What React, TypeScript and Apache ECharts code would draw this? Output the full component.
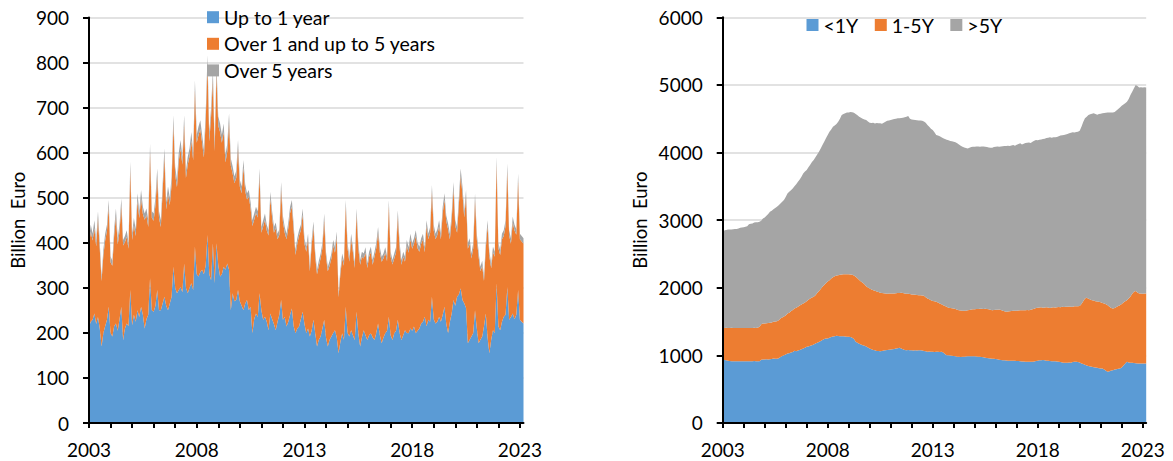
import React, { useEffect, useRef } from 'react';
import * as echarts from 'echarts';

// ---------- categories (monthly, Jan 2003 .. Mar 2023) ----------
const firstYear = 2003;
const monthCount = 243;
const months: string[] = [];
for (let i = 0; i < monthCount; i++) {
  const y = firstYear + Math.floor(i / 12);
  const m = (i % 12) + 1;
  months.push(`${y}-${m < 10 ? '0' + m : m}`);
}

// ---------- left chart: gross issues (billion euro) ----------
// blue layer: up to 1 year
const grossUpTo1Y = [
  214, 225, 229, 243, 220, 235, 210, 170, 200, 215, 229, 258,
  200, 192, 215, 221, 205, 230, 258, 184, 210, 221, 215, 295,
  217, 240, 225, 250, 235, 258, 240, 210, 230, 240, 321, 250,
  247, 260, 295, 250, 250, 265, 280, 260, 250, 265, 280, 347,
  300, 288, 295, 302, 290, 354, 300, 288, 300, 310, 295, 391,
  330, 325, 335, 340, 330, 350, 417, 330, 317, 399, 310, 399,
  350, 325, 330, 347, 340, 354, 340, 250, 288, 270, 273, 295,
  270, 260, 250, 265, 273, 250, 258, 199, 230, 243, 235, 288,
  250, 229, 236, 225, 206, 243, 230, 220, 206, 225, 240, 273,
  229, 235, 214, 225, 240, 254, 215, 199, 210, 214, 230, 247,
  220, 199, 210, 192, 205, 229, 200, 170, 185, 192, 210, 229,
  190, 170, 185, 192, 200, 206, 190, 155, 180, 199, 185, 258,
  200, 192, 206, 195, 184, 247, 200, 170, 190, 206, 195, 184,
  195, 199, 190, 184, 200, 221, 195, 177, 190, 199, 205, 236,
  195, 184, 199, 205, 229, 200, 184, 195, 206, 200, 199, 210,
  205, 214, 199, 205, 210, 221, 225, 236, 215, 229, 225, 280,
  230, 221, 225, 236, 225, 240, 258, 220, 199, 225, 243, 273,
  260, 280, 285, 299, 273, 266, 255, 177, 185, 192, 200, 250,
  210, 177, 185, 192, 215, 243, 190, 155, 185, 206, 200, 310,
  215, 206, 225, 236, 240, 302, 229, 235, 243, 230, 240, 295,
  229, 225, 221,
];
// grey layer: over 5 years
const grossOver5Y = [
  14, 16, 15, 18, 13, 15, 14, 10, 13, 15, 14, 16,
  13, 11, 15, 17, 14, 15, 16, 12, 14, 15, 13, 18,
  14, 16, 15, 17, 15, 18, 16, 14, 15, 15, 20, 15,
  16, 17, 19, 15, 15, 17, 18, 16, 17, 16, 18, 20,
  18, 17, 18, 20, 17, 20, 16, 17, 18, 19, 17, 22,
  18, 19, 20, 18, 17, 19, 24, 18, 19, 22, 17, 22,
  20, 19, 18, 19, 17, 18, 20, 16, 16, 15, 16, 18,
  15, 15, 17, 15, 14, 15, 14, 13, 14, 14, 14, 17,
  13, 14, 14, 13, 12, 15, 14, 13, 13, 12, 13, 16,
  13, 13, 12, 13, 14, 15, 13, 11, 12, 12, 13, 14,
  12, 11, 12, 10, 12, 13, 11, 10, 11, 11, 12, 14,
  11, 10, 11, 11, 12, 12, 13, 9, 10, 11, 11, 14,
  12, 11, 12, 11, 10, 14, 12, 11, 11, 11, 12, 10,
  11, 12, 11, 11, 12, 13, 12, 11, 11, 12, 11, 14,
  11, 10, 11, 12, 14, 12, 11, 11, 11, 12, 12, 13,
  12, 12, 13, 12, 11, 12, 13, 11, 13, 12, 13, 15,
  13, 12, 13, 13, 12, 14, 15, 13, 13, 12, 14, 16,
  13, 13, 15, 17, 16, 14, 15, 12, 12, 11, 12, 15,
  12, 11, 10, 11, 10, 12, 13, 11, 10, 12, 11, 17,
  12, 11, 12, 13, 13, 17, 12, 12, 13, 13, 12, 16,
  12, 12, 12,
];
// top of the stack: all maturities
const grossAllMaturities = [
  410, 440, 420, 450, 405, 470, 400, 325, 385, 420, 440, 495,
  370, 360, 430, 476, 410, 440, 498, 406, 415, 428, 400, 580,
  420, 455, 430, 510, 470, 517, 480, 465, 476, 450, 620, 470,
  465, 500, 565, 470, 450, 530, 610, 490, 525, 500, 547, 683,
  569, 540, 600, 628, 590, 683, 560, 591, 610, 646, 600, 761,
  640, 658, 672, 640, 606, 690, 817, 643, 700, 783, 620, 798,
  680, 665, 640, 665, 595, 620, 687, 587, 570, 547, 560, 628,
  540, 525, 584, 530, 510, 517, 490, 450, 465, 480, 470, 565,
  435, 450, 465, 440, 428, 513, 470, 435, 445, 420, 430, 535,
  460, 435, 420, 445, 480, 495, 440, 384, 410, 428, 440, 476,
  410, 391, 420, 347, 406, 447, 380, 340, 360, 376, 400, 465,
  380, 347, 360, 376, 406, 390, 425, 288, 340, 376, 360, 495,
  400, 369, 420, 390, 354, 476, 400, 362, 380, 376, 390, 354,
  380, 391, 362, 380, 400, 435, 390, 369, 376, 390, 370, 495,
  380, 362, 376, 390, 472, 400, 362, 380, 369, 406, 390, 420,
  399, 410, 428, 400, 391, 410, 420, 390, 450, 420, 435, 528,
  440, 420, 430, 450, 420, 480, 510, 460, 443, 420, 465, 535,
  450, 435, 500, 565, 525, 470, 517, 399, 410, 376, 400, 510,
  420, 380, 347, 360, 325, 400, 450, 380, 354, 391, 380, 591,
  400, 384, 420, 428, 450, 576, 428, 410, 458, 440, 430, 554,
  420, 415, 410,
];

// ---------- right chart: outstanding amounts (billion euro) ----------
const stockUnder1Y = [
  937, 930, 925, 918, 915, 913, 913, 913, 913, 913, 913, 913,
  913, 913, 913, 913, 913, 913, 915, 913, 913, 913, 935, 937,
  937, 940, 938, 940, 945, 952, 950, 948, 958, 975, 990, 1000,
  1010, 1026, 1030, 1040, 1050, 1066, 1060, 1070, 1080, 1090, 1100, 1110,
  1125, 1130, 1140, 1150, 1160, 1174, 1185, 1195, 1210, 1225, 1240, 1248,
  1248, 1260, 1270, 1278, 1283, 1290, 1285, 1283, 1280, 1282, 1278, 1275,
  1273, 1270, 1260, 1240, 1199, 1185, 1170, 1160, 1150, 1140, 1130, 1115,
  1100, 1090, 1080, 1075, 1065, 1062, 1061, 1065, 1070, 1075, 1080, 1082,
  1085, 1090, 1095, 1100, 1105, 1110, 1100, 1090, 1080, 1076, 1078, 1076,
  1076, 1070, 1075, 1072, 1076, 1074, 1070, 1065, 1060, 1051, 1055, 1052,
  1051, 1050, 1052, 1051, 1050, 1051, 1040, 1020, 1002, 1000, 998, 995,
  990, 985, 980, 977, 975, 978, 980, 982, 985, 987, 986, 987,
  985, 982, 980, 977, 975, 970, 965, 960, 955, 952, 950, 948,
  945, 940, 935, 930, 928, 925, 922, 920, 918, 918, 919, 918,
  916, 914, 912, 910, 908, 906, 905, 903, 903, 905, 910, 915,
  920, 925, 928, 930, 925, 920, 918, 915, 913, 912, 913, 910,
  905, 900, 895, 890, 888, 890, 895, 888, 900, 903, 903, 900,
  895, 880, 870, 860, 850, 840, 835, 829, 825, 820, 815, 810,
  805, 804, 790, 770, 755, 765, 775, 780, 790, 795, 800, 804,
  820, 850, 880, 903, 895, 890, 888, 885, 882, 880, 878, 880,
  878, 880, 878,
];
// cumulative: up to 5 years (top of the orange layer)
const stockUpTo5Y = [
  1406, 1405, 1406, 1405, 1404, 1406, 1405, 1404, 1405, 1404, 1403, 1405,
  1404, 1405, 1403, 1404, 1405, 1404, 1406, 1405, 1410, 1420, 1460, 1470,
  1472, 1475, 1478, 1480, 1485, 1495, 1500, 1505, 1520, 1544, 1560, 1575,
  1590, 1618, 1630, 1650, 1670, 1692, 1705, 1720, 1735, 1750, 1766, 1780,
  1800, 1820, 1840, 1855, 1865, 1890, 1920, 1950, 1980, 2013, 2040, 2065,
  2090, 2112, 2135, 2155, 2170, 2180, 2186, 2192, 2196, 2198, 2200, 2200,
  2200, 2195, 2190, 2180, 2161, 2140, 2115, 2090, 2072, 2050, 2020, 2003,
  1990, 1975, 1964, 1955, 1945, 1935, 1924, 1920, 1918, 1915, 1912, 1914,
  1914, 1916, 1915, 1918, 1920, 1922, 1924, 1920, 1915, 1912, 1910, 1905,
  1900, 1898, 1895, 1893, 1890, 1888, 1885, 1880, 1860, 1840, 1830, 1815,
  1805, 1798, 1791, 1780, 1765, 1755, 1742, 1730, 1718, 1705, 1700, 1695,
  1692, 1685, 1675, 1668, 1662, 1658, 1658, 1660, 1665, 1670, 1677, 1680,
  1682, 1685, 1686, 1687, 1687, 1686, 1687, 1685, 1680, 1675, 1668, 1670,
  1672, 1675, 1677, 1670, 1660, 1650, 1643, 1648, 1652, 1655, 1658, 1660,
  1660, 1662, 1665, 1668, 1666, 1668, 1670, 1668, 1672, 1680, 1690, 1698,
  1705, 1707, 1710, 1705, 1708, 1712, 1707, 1700, 1706, 1710, 1707, 1712,
  1715, 1710, 1718, 1715, 1717, 1720, 1722, 1717, 1720, 1724, 1725, 1727,
  1730, 1760, 1800, 1840, 1850, 1835, 1825, 1815, 1810, 1800, 1795, 1791,
  1785, 1775, 1765, 1756, 1740, 1720, 1700, 1692, 1700, 1715, 1730, 1742,
  1760, 1780, 1800, 1815, 1840, 1870, 1910, 1939, 1950, 1930, 1914, 1914,
  1912, 1914, 1913,
];
// cumulative: all maturities (top of the grey layer)
const stockTotal = [
  2780, 2850, 2855, 2860, 2860, 2862, 2865, 2870, 2870, 2875, 2886, 2890,
  2895, 2900, 2910, 2940, 2945, 2950, 2965, 2968, 2970, 2975, 2990, 3024,
  3040, 3065, 3090, 3123, 3140, 3160, 3180, 3197, 3220, 3245, 3270, 3296,
  3340, 3394, 3420, 3440, 3469, 3500, 3530, 3567, 3600, 3640, 3690, 3720,
  3740, 3780, 3820, 3860, 3888, 3930, 3970, 4011, 4060, 4110, 4159, 4210,
  4260, 4307, 4340, 4381, 4400, 4420, 4455, 4500, 4554, 4570, 4580, 4590,
  4593, 4600, 4595, 4588, 4570, 4550, 4529, 4515, 4500, 4490, 4480, 4460,
  4440, 4435, 4440, 4430, 4435, 4431, 4431, 4425, 4440, 4455, 4470, 4475,
  4480, 4490, 4495, 4500, 4505, 4505, 4510, 4515, 4520, 4529, 4540, 4500,
  4490, 4485, 4480, 4478, 4475, 4472, 4470, 4460, 4440, 4406, 4380, 4350,
  4332, 4300, 4258, 4250, 4240, 4225, 4209, 4200, 4190, 4180, 4170, 4165,
  4159, 4150, 4135, 4120, 4100, 4085, 4075, 4065, 4061, 4070, 4080, 4085,
  4085, 4090, 4090, 4085, 4088, 4090, 4085, 4080, 4075, 4070, 4070, 4080,
  4085, 4090, 4085, 4088, 4092, 4095, 4095, 4100, 4098, 4105, 4110, 4100,
  4115, 4125, 4135, 4120, 4130, 4140, 4145, 4149, 4140, 4160, 4175, 4184,
  4180, 4190, 4194, 4200, 4205, 4215, 4220, 4224, 4220, 4225, 4224, 4230,
  4240, 4250, 4255, 4258, 4265, 4275, 4285, 4292, 4300, 4295, 4305, 4307,
  4320, 4381, 4450, 4505, 4530, 4554, 4565, 4575, 4579, 4570, 4560, 4569,
  4575, 4580, 4585, 4588, 4590, 4592, 4593, 4593, 4600, 4620, 4645, 4667,
  4690, 4710, 4730, 4751, 4790, 4850, 4900, 4950, 4998, 4985, 4963, 4965,
  4963, 4965, 4963,
];

const leftNames = ['Up to 1 year', 'Over 1 and up to 5 years', 'Over 5 years'];
const rightNames = ['<1Y', '1-5Y', '>5Y'];
const colors = ['#5B9BD5', '#ED7D31', '#A5A5A5'];

const FONT = 'Lato, "Liberation Sans", sans-serif';
const TICK_FONT = 19;
const LEGEND_FONT = 19.5;

export default function App() {
  const ref = useRef<HTMLDivElement>(null);

  useEffect(() => {
    if (!ref.current) return;
    const chart = echarts.init(ref.current, null, { renderer: 'svg' });

    const grossOrange = grossAllMaturities.map((t, i) => t - grossUpTo1Y[i] - grossOver5Y[i]);
    const stockOrange = stockUpTo5Y.map((v, i) => v - stockUnder1Y[i]);
    const stockGrey = stockTotal.map((v, i) => v - stockUpTo5Y[i]);

    const black = { color: '#000', width: 2 };

    // base x axis: labels only
    const xBase = (gridIndex: number) => ({
      gridIndex,
      type: 'category',
      position: 'bottom',
      data: months,
      boundaryGap: false,
      axisLine: { show: false },
      axisTick: { show: false },
      axisLabel: {
        interval: (i: number) => i % 60 === 0,
        formatter: (v: string) => v.slice(0, 4),
        margin: 17,
        fontSize: TICK_FONT,
        color: '#000',
        fontFamily: FONT,
      },
      splitLine: { show: false },
    });
    // overlay x axis: line and yearly ticks drawn above the areas
    const xOver = (gridIndex: number) => ({
      gridIndex,
      type: 'category',
      position: 'bottom',
      offset: 0,
      data: months,
      boundaryGap: false,
      z: 10,
      axisLine: { show: true, lineStyle: black },
      axisTick: { show: true, interval: (i: number) => i % 12 === 0, length: 5, lineStyle: black },
      axisLabel: { show: false },
      splitLine: { show: false },
    });

    const yBase = (gridIndex: number, max: number, interval: number, nameGap: number) => ({
      gridIndex,
      type: 'value',
      position: 'left',
      min: 0,
      max,
      interval,
      name: 'Billion  Euro',
      nameLocation: 'middle',
      nameGap,
      nameTextStyle: { fontSize: 18.5, color: '#000', fontFamily: FONT },
      axisLine: { show: false },
      axisTick: { show: false },
      axisLabel: {
        margin: 20,
        fontSize: TICK_FONT,
        color: '#000',
        fontFamily: FONT,
        formatter: (v: number) => String(v),
      },
      splitLine: { show: true, lineStyle: { color: '#d9d9d9', width: 1.5 } },
    });
    const yOver = (gridIndex: number, max: number, interval: number) => ({
      gridIndex,
      type: 'value',
      position: 'left',
      offset: 0,
      min: 0,
      max,
      interval,
      z: 10,
      axisLine: { show: true, lineStyle: black },
      axisTick: { show: true, length: 6, lineStyle: black },
      axisLabel: { show: false },
      splitLine: { show: false },
    });

    const areaSeries = (name: string, data: number[], color: string, idx: number, stack: string) => ({
      name,
      type: 'line',
      stack,
      xAxisIndex: idx,
      yAxisIndex: idx,
      data,
      symbol: 'none',
      showSymbol: false,
      silent: true,
      lineStyle: { width: 0, color },
      itemStyle: { color },
      areaStyle: { color, opacity: 1 },
    });

    const legendText = { fontSize: LEGEND_FONT, color: '#000', fontFamily: FONT, lineHeight: 20 };

    const option = {
      animation: false,
      textStyle: { fontFamily: FONT },
      grid: [
        { left: 89, top: 17.5, width: 434.5, height: 405.5 },
        { left: 722.7, top: 17.3, width: 423.5, height: 405.6 },
      ],
      legend: [
        {
          data: leftNames,
          orient: 'vertical',
          left: 207,
          top: 7.2,
          padding: 0,
          itemWidth: 12,
          itemHeight: 12,
          itemGap: 6.6,
          icon: 'rect',
          textStyle: legendText,
        },
        {
          data: rightNames,
          orient: 'horizontal',
          left: 806.5,
          top: 15,
          padding: 0,
          itemWidth: 12,
          itemHeight: 12,
          itemGap: 16.5,
          icon: 'rect',
          textStyle: legendText,
        },
      ],
      xAxis: [xBase(0), xBase(1), xOver(0), xOver(1)],
      yAxis: [
        yBase(0, 900, 100, 61.5),
        yBase(1, 6000, 1000, 73.5),
        yOver(0, 900, 100),
        yOver(1, 6000, 1000),
      ],
      series: [
        areaSeries(leftNames[0], grossUpTo1Y, colors[0], 0, 'gross'),
        areaSeries(leftNames[1], grossOrange, colors[1], 0, 'gross'),
        areaSeries(leftNames[2], grossOver5Y, colors[2], 0, 'gross'),
        areaSeries(rightNames[0], stockUnder1Y, colors[0], 1, 'stock'),
        areaSeries(rightNames[1], stockOrange, colors[1], 1, 'stock'),
        areaSeries(rightNames[2], stockGrey, colors[2], 1, 'stock'),
      ],
    };

    chart.setOption(option as any);
    return () => chart.dispose();
  }, []);

  return (
    <div
      ref={ref}
      style={{ position: 'absolute', left: 0, top: 0, width: 1173, height: 461, background: '#fff' }}
    />
  );
}
